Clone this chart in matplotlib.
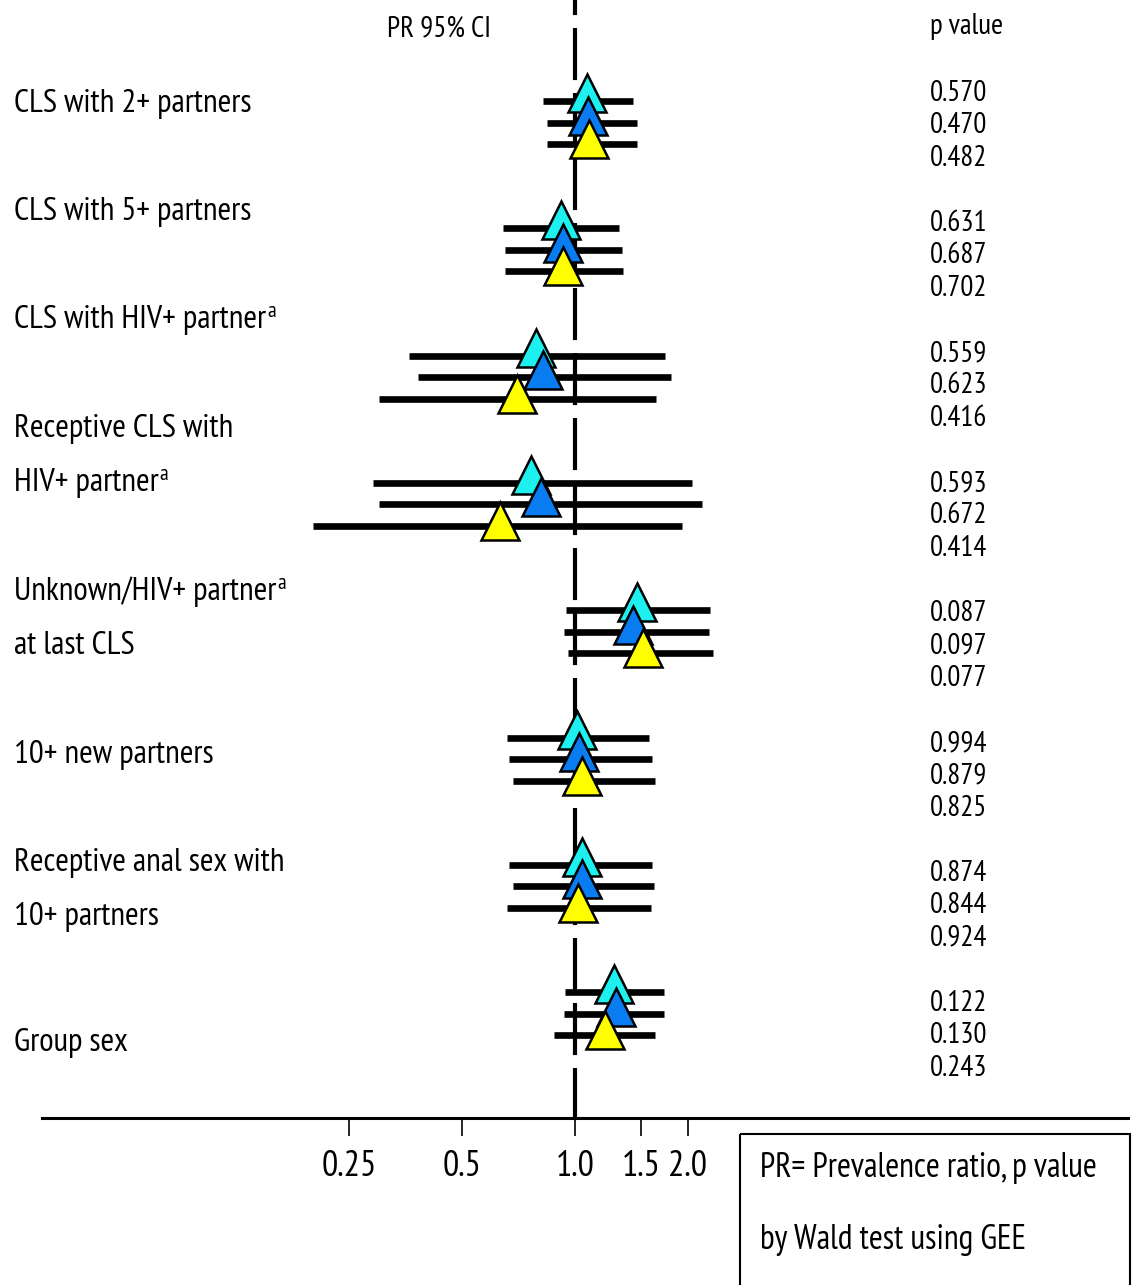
import os
import matplotlib
matplotlib.use("Agg")
import matplotlib.pyplot as plt
from matplotlib import font_manager
from matplotlib.font_manager import FontProperties
from matplotlib.patches import Rectangle
from matplotlib.ticker import NullLocator


def pick_font_file():
    """Prefer a narrow / condensed upright regular sans face."""
    entries = font_manager.fontManager.ttflist
    skip = ("bold", "italic", "oblique", "light", "thin", "medium",
            "black", "semi", "extra", "heavy", "mono", "[")

    def regular(base):
        return not any(k in base for k in skip)

    tests = [
        lambda b: "narrow" in b and "sans" in b,
        lambda b: "robotocondensed" in b.replace("_", "").replace(" ", ""),
        lambda b: "condensed" in b and "sans" in b,
    ]
    for test in tests:
        for f in entries:
            base = os.path.basename(f.fname).lower()
            if test(base) and regular(base):
                return f.fname
    for fam in ("Liberation Sans", "Arial", "DejaVu Sans"):
        try:
            return font_manager.findfont(FontProperties(family=fam),
                                         fallback_to_default=False)
        except Exception:
            continue
    return font_manager.findfont(FontProperties())


FONT_FILE = pick_font_file()

# ---- outcomes (top to bottom); second item marks a superscript "a" ----
outcome_lines = [
    [("CLS with 2+ partners", False)],
    [("CLS with 5+ partners", False)],
    [("CLS with HIV+ partner", True)],
    [("Receptive CLS with", False), ("HIV+ partner", True)],
    [("Unknown/HIV+ partner", True), ("at last CLS", False)],
    [("10+ new partners", False)],
    [("Receptive anal sex with", False), ("10+ partners", False)],
    [("Group sex", False)],
]

# ---- prevalence ratios and 95% CI, three models ----
pr_model1 = [1.074, 0.916, 0.786, 0.762, 1.465, 1.010, 1.042, 1.273]
lo_model1 = [0.820, 0.642, 0.361, 0.290, 0.946, 0.660, 0.668, 0.940]
hi_model1 = [1.425, 1.312, 1.737, 2.046, 2.289, 1.577, 1.601, 1.726]

pr_model2 = [1.083, 0.927, 0.820, 0.810, 1.427, 1.027, 1.042, 1.286]
lo_model2 = [0.844, 0.651, 0.382, 0.300, 0.935, 0.668, 0.682, 0.935]
hi_model2 = [1.466, 1.332, 1.799, 2.184, 2.271, 1.601, 1.624, 1.726]

pr_model3 = [1.090, 0.931, 0.699, 0.631, 1.515, 1.042, 1.017, 1.202]
lo_model3 = [0.844, 0.651, 0.300, 0.201, 0.960, 0.682, 0.660, 0.879]
hi_model3 = [1.466, 1.340, 1.644, 1.924, 2.336, 1.634, 1.591, 1.634]

# ---- p values (Wald test, GEE) ----
p_model1 = ["0.570", "0.631", "0.559", "0.593", "0.087", "0.994", "0.874", "0.122"]
p_model2 = ["0.470", "0.687", "0.623", "0.672", "0.097", "0.879", "0.844", "0.130"]
p_model3 = ["0.482", "0.702", "0.416", "0.414", "0.077", "0.825", "0.924", "0.243"]

tick_values = [0.25, 0.5, 1.0, 1.5, 2.0]
tick_labels = ["0.25", "0.5", "1.0", "1.5", "2.0"]

model_colors = ["#1EF0F0", "#0A7CF2", "#FFFF00"]

# ---- layout (pixels) ----
W, H = 1133, 1285
AX_L, AX_R, AX_B = 42, 1128, 1118
REF_PX, OCT_PX = 575, 113          # x pixel of PR = 1 and pixels per doubling
ROW0, ROW_STEP, SUB_STEP = 101, 127.3, 21.5
MARK_SHIFT = [-8, -7, -5]
P_ROW0, P_ROW_STEP, P_SUB_STEP = 101, 130, 32.3
label_baselines = [112, 220, 328, 437, 600, 763, 871, 1051]
LABEL_LINE_GAP = 54

fig = plt.figure(figsize=(W / 100, H / 100), dpi=100)
renderer = fig.canvas.get_renderer()


def fitted_size(sample, width_px, cap=40):
    """Font size (pt) at which `sample` spans about width_px pixels."""
    probe = FontProperties(fname=FONT_FILE, size=20)
    w, _, _ = renderer.get_text_width_height_descent(sample, probe, ismath=False)
    return min(cap, 20 * width_px / w)


size_label = fitted_size("CLS with 2+ partners", 237)
size_pval = fitted_size("0.570", 57)
size_head = fitted_size("p value", 73)
size_note = fitted_size("PR= Prevalence ratio, p value", 337)
size_tick = fitted_size("0.25", 55)


def fp(size):
    return FontProperties(fname=FONT_FILE, size=size)


ax = fig.add_axes([AX_L / W, (H - AX_B) / H, (AX_R - AX_L) / W, AX_B / H])
ax.set_xscale("log", base=2)
ax.set_xlim(2 ** ((AX_L - REF_PX) / OCT_PX), 2 ** ((AX_R - REF_PX) / OCT_PX))
ax.set_ylim(AX_B, 0)
for side in ["top", "left", "right"]:
    ax.spines[side].set_visible(False)
ax.spines["bottom"].set_linewidth(2.2)
ax.set_yticks([])
ax.set_xticks(tick_values)
ax.set_xticklabels(tick_labels, fontproperties=fp(size_tick))
ax.xaxis.set_minor_locator(NullLocator())
ax.tick_params(axis="x", direction="out", length=13, width=1.2, pad=10)

# reference line at PR = 1
ax.plot([1.0, 1.0], [AX_B, 0], color="black", lw=3,
        linestyle=(0.5, (12.5, 3.1)), zorder=1)

models = [
    (pr_model1, lo_model1, hi_model1),
    (pr_model2, lo_model2, hi_model2),
    (pr_model3, lo_model3, hi_model3),
]

for i in range(len(outcome_lines)):
    for j, (pr, lo, hi) in enumerate(models):
        y = ROW0 + ROW_STEP * i + SUB_STEP * j
        ax.plot([lo[i], hi[i]], [y, y], color="black", lw=4.8,
                solid_capstyle="butt", zorder=2)
for i in range(len(outcome_lines)):
    for j, (pr, lo, hi) in enumerate(models):
        y = ROW0 + ROW_STEP * i + SUB_STEP * j + MARK_SHIFT[j]
        ax.plot([pr[i]], [y], marker="^", ms=27, mfc=model_colors[j],
                mec="black", mew=1.8, linestyle="none", zorder=3 + j,
                clip_on=False)

# ---- text layer in pixel coordinates ----
tax = fig.add_axes([0, 0, 1, 1])
tax.set_xlim(0, W)
tax.set_ylim(H, 0)
tax.axis("off")

tax.text(439, 36, "PR 95% CI", fontproperties=fp(size_head),
         ha="center", va="baseline")
tax.text(930, 34, "p value", fontproperties=fp(size_head),
         ha="left", va="baseline")

for i, lines in enumerate(outcome_lines):
    for k, (line, footnote) in enumerate(lines):
        base = label_baselines[i] + LABEL_LINE_GAP * k
        t = tax.text(14, base, line, fontproperties=fp(size_label),
                     ha="left", va="baseline")
        if footnote:
            bb = t.get_window_extent(renderer)
            tax.text(bb.x1 + 1, base - 11, "a",
                     fontproperties=fp(size_label * 0.66),
                     ha="left", va="baseline")

for i in range(len(outcome_lines)):
    for j, pv in enumerate([p_model1, p_model2, p_model3]):
        tax.text(930, P_ROW0 + P_ROW_STEP * i + P_SUB_STEP * j, pv[i],
                 fontproperties=fp(size_pval), ha="left", va="baseline")

tax.add_patch(Rectangle((740, 1134), 390, 200, fill=False, lw=1.5,
                        edgecolor="black"))
tax.text(760, 1177, "PR= Prevalence ratio, p value",
         fontproperties=fp(size_note), ha="left", va="baseline")
tax.text(760, 1249, "by Wald test using GEE",
         fontproperties=fp(size_note), ha="left", va="baseline")

fig.savefig("out.png", dpi=100)
